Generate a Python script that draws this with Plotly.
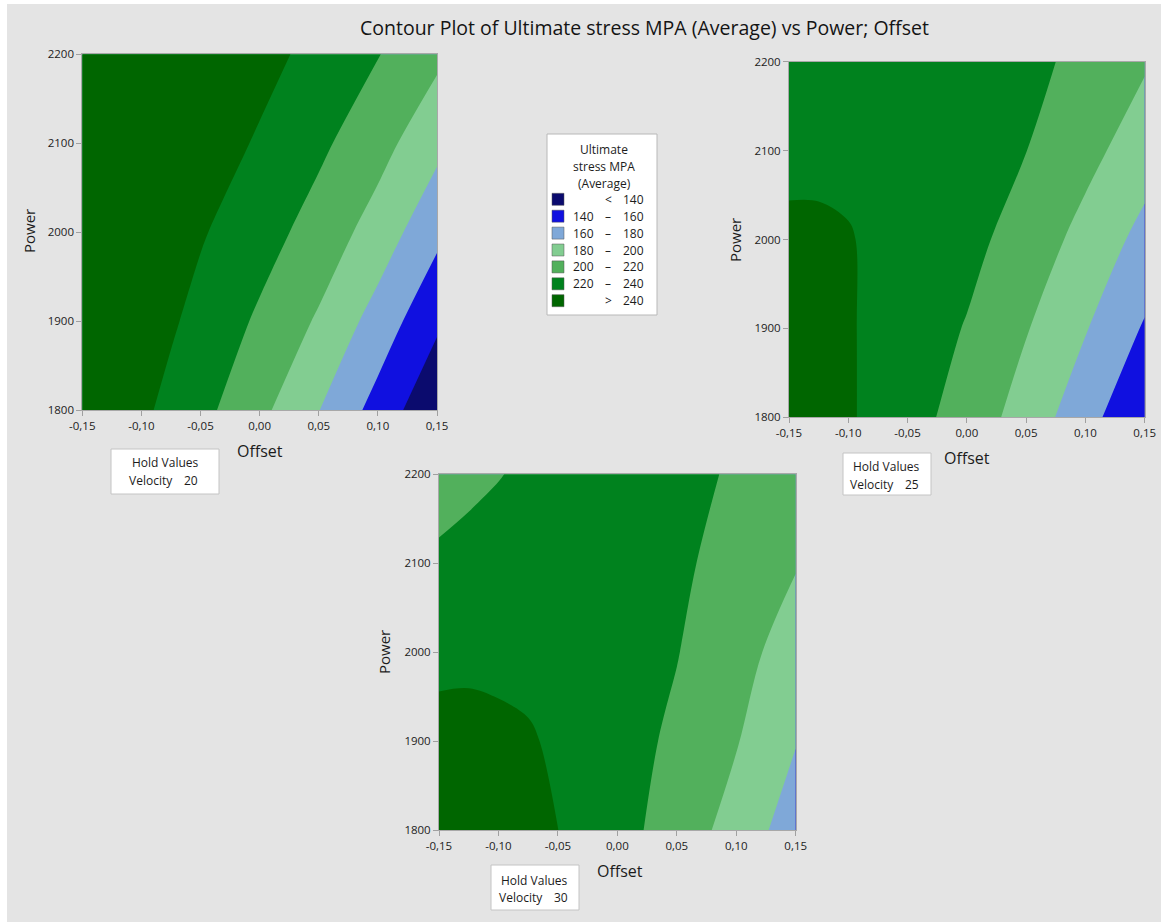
import plotly.graph_objects as go

# ---------------------------------------------------------------- data
OFFSET = [-0.15, -0.125, -0.10, -0.075, -0.05, 0.0, 0.05, 0.10, 0.15]
POWER = [1800, 1900, 2000, 2100, 2200]

# Ultimate stress (MPa, average) on the Offset x Power grid, one row per power
STRESS_V20 = [
    [258.0, 251.0, 243.6, 234.9, 225.8, 205.0, 180.5, 152.7, 123.0],
    [262.0, 256.5, 249.6, 242.4, 234.2, 217.0, 197.6, 172.0, 143.7],
    [264.0, 259.0, 252.8, 247.5, 241.8, 228.1, 212.1, 191.4, 165.0],
    [270.8, 266.0, 261.3, 256.0, 250.5, 237.8, 223.9, 207.4, 185.4],
    [274.8, 270.7, 266.5, 262.0, 257.0, 246.5, 234.0, 220.8, 204.4],
]
STRESS_V25 = [
    [244.0, 243.5, 242.0, 235.1, 227.9, 211.5, 191.6, 167.8, 140.6],
    [245.0, 244.5, 241.6, 236.0, 230.4, 218.9, 201.2, 181.2, 158.0],
    [242.5, 242.4, 241.2, 236.3, 232.2, 225.5, 211.9, 193.3, 173.9],
    [236.8, 236.8, 235.5, 234.3, 233.0, 228.0, 220.2, 206.2, 189.0],
    [232.0, 232.5, 233.2, 233.8, 234.0, 231.5, 225.6, 214.4, 202.2],
]
STRESS_V30 = [
    [245.3, 245.2, 244.5, 242.8, 240.1, 226.8, 211.4, 192.0, 170.0],
    [243.8, 243.8, 243.2, 241.6, 237.4, 227.6, 216.5, 201.2, 180.9],
    [237.0, 237.4, 236.5, 235.5, 234.0, 229.0, 220.7, 207.0, 191.0],
    [222.8, 225.5, 226.5, 227.5, 228.5, 228.0, 223.6, 212.7, 201.2],
    [213.1, 216.0, 219.4, 222.5, 226.0, 228.0, 225.0, 218.0, 211.0],
]
VELOCITY = [20, 25, 30]

LEVELS = [140, 160, 180, 200, 220, 240]
BAND_COLORS = ["#0b0b6e", "#1010e0", "#7fa8d8", "#82cd91",
               "#52b05c", "#00821e", "#006600"]

OFFSET_TICKS = [-0.15, -0.10, -0.05, 0.0, 0.05, 0.10, 0.15]
OFFSET_LABELS = ["-0,15", "-0,10", "-0,05", "0,00", "0,05", "0,10", "0,15"]
POWER_TICKS = [1800, 1900, 2000, 2100, 2200]

TITLE = "Contour Plot of Ultimate stress MPA (Average) vs Power; Offset"
LEGEND_TITLE = ["Ultimate", "stress MPA", "(Average)"]

# ---------------------------------------------------------------- layout helpers
W, H = 1161, 922
FONT = "Open Sans"
TEXT = "#1c1c1c"
BG = "#e4e4e4"


def fx(px):
    return px / W


def fy(py):
    return 1 - py / H


def label(text, x, y, size=12, xanchor="center", color=TEXT, angle=0):
    return dict(text=text, x=fx(x), y=fy(y), xref="paper", yref="paper",
                xanchor=xanchor, yanchor="middle", showarrow=False,
                textangle=angle, font=dict(family=FONT, size=size, color=color))


# stepped colour scale: one flat colour per filled band
n = len(BAND_COLORS)
colorscale = []
for i, c in enumerate(BAND_COLORS):
    colorscale.append([i / n, c])
    colorscale.append([(i + 1) / n, c])

# plot-area pixel boxes (left, right, top, bottom) and text anchors
panels = [
    dict(z=STRESS_V20, box=(82.3, 437.0, 54.3, 410.0),
         offset_lbl=(260, 451), power_lbl=(29, 231),
         hold=(111, 219, 449, 494), hold_title=(165, 463),
         vel_left=127, vel_right=200, vel_y=481),
    dict(z=STRESS_V25, box=(789.0, 1144.7, 61.7, 417.3),
         offset_lbl=(967, 458), power_lbl=(735, 240),
         hold=(843, 931, 453, 495), hold_title=(886, 466),
         vel_left=848, vel_right=921, vel_y=484),
    dict(z=STRESS_V30, box=(439.0, 795.7, 474.3, 830.0),
         offset_lbl=(620, 871), power_lbl=(384, 652),
         hold=(491, 579, 865, 910), hold_title=(534, 880),
         vel_left=497, vel_right=570, vel_y=897),
]

fig = go.Figure()
shapes = []
annotations = []

# page background (thin white strip along top and left edges)
shapes.append(dict(type="rect", xref="paper", yref="paper", layer="below",
                   x0=fx(7), x1=1, y0=0, y1=fy(4),
                   fillcolor=BG, line=dict(width=0)))

axis_common = dict(showgrid=False, zeroline=False, showline=True, mirror=True,
                   linecolor="#a8a8a8", linewidth=1, ticks="outside",
                   ticklen=5, tickcolor="#a0a0a0", automargin=False,
                   tickfont=dict(family=FONT, size=11.5, color=TEXT))

for i, (p, vel) in enumerate(zip(panels, VELOCITY), start=1):
    xa = "x" if i == 1 else f"x{i}"
    ya = "y" if i == 1 else f"y{i}"
    fig.add_trace(go.Contour(
        x=OFFSET, y=POWER, z=p["z"], xaxis=xa, yaxis=ya,
        colorscale=colorscale, showscale=False,
        contours=dict(start=LEVELS[0], end=LEVELS[-1],
                      size=LEVELS[1] - LEVELS[0], coloring="fill"),
        line=dict(width=0, smoothing=1.0),
        hoverinfo="skip",
    ))
    l, r, t, b = p["box"]
    fig.update_layout(**{
        ("xaxis" if i == 1 else f"xaxis{i}"): dict(
            axis_common, domain=[fx(l), fx(r)], range=[-0.15, 0.15],
            tickvals=OFFSET_TICKS, ticktext=OFFSET_LABELS, anchor=ya),
        ("yaxis" if i == 1 else f"yaxis{i}"): dict(
            axis_common, domain=[fy(b), fy(t)], range=[1800, 2200],
            tickvals=POWER_TICKS, anchor=xa),
    })

    ox, oy = p["offset_lbl"]
    annotations.append(label("Offset", ox, oy, size=16))
    px_, py_ = p["power_lbl"]
    annotations.append(label("Power", px_, py_, size=15, angle=-90))

    # hold-values box
    x0, x1, y0, y1 = p["hold"]
    shapes.append(dict(type="rect", xref="paper", yref="paper",
                       x0=fx(x0), x1=fx(x1), y0=fy(y1), y1=fy(y0),
                       fillcolor="white", line=dict(color="#c4c4c4", width=1)))
    hx, hy = p["hold_title"]
    annotations.append(label("Hold Values", hx, hy))
    annotations.append(label("Velocity", p["vel_left"], p["vel_y"],
                             xanchor="left"))
    annotations.append(label(str(vel), p["vel_right"], p["vel_y"],
                             xanchor="right"))

# ---------------------------------------------------------------- legend
shapes.append(dict(type="rect", xref="paper", yref="paper",
                   x0=fx(547), x1=fx(657), y0=fy(315), y1=fy(134),
                   fillcolor="white", line=dict(color="#b8b8b8", width=1)))
for k, line in enumerate(LEGEND_TITLE):
    annotations.append(label(line, 604, 149 + 17 * k))

row_y0, row_dy = 199.3, 16.9
for k, color in enumerate(BAND_COLORS):
    cy = row_y0 + row_dy * k
    shapes.append(dict(type="rect", xref="paper", yref="paper",
                       x0=fx(552), x1=fx(564), y0=fy(cy + 6), y1=fy(cy - 6),
                       fillcolor=color, line=dict(color="#555555", width=0.5)))
    if k == 0:
        low, sym, high = "", "<", str(LEVELS[0])
    elif k == len(BAND_COLORS) - 1:
        low, sym, high = "", ">", str(LEVELS[-1])
    else:
        low, sym, high = str(LEVELS[k - 1]), "–", str(LEVELS[k])
    for txt, xpos, anchor in ((low, 596, "right"), (sym, 608, "center"),
                              (high, 646, "right")):
        if txt:
            annotations.append(label(txt, xpos, cy, xanchor=anchor))

# chart title
annotations.append(label(TITLE, 644, 27, size=19.5, color="#141414"))

fig.update_layout(
    width=W, height=H, autosize=False,
    margin=dict(l=0, r=0, t=0, b=0, pad=0, autoexpand=False),
    paper_bgcolor="white", plot_bgcolor=BG,
    showlegend=False,
    shapes=shapes, annotations=annotations,
    font=dict(family=FONT, color=TEXT),
)

fig.write_html("out.html")
